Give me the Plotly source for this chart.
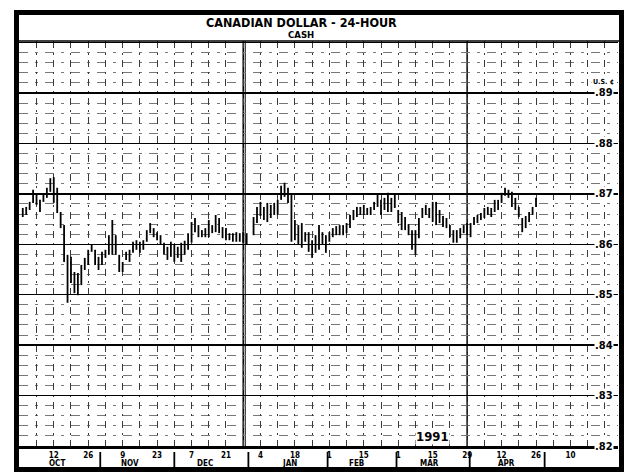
import pandas as pd
import plotly.graph_objects as go

# ---------------- data ----------------
title_main = "CANADIAN DOLLAR - 24-HOUR"
title_sub = "CASH"
unit_label = "U.S. ¢"
year_label = "1991"

dates = pd.bdate_range("1990-10-01", periods=150)

highs = [
    0.8672, 0.8674, 0.8684, 0.8708, 0.8698, 0.8688, 0.8698, 0.8712, 0.8731, 0.8733,
    0.8712, 0.8664, 0.8638, 0.8579, 0.8575, 0.8545, 0.8543, 0.8559, 0.8573, 0.8589,
    0.8599, 0.8589, 0.8575, 0.8585, 0.8589, 0.8618, 0.8648, 0.8618, 0.8579, 0.8565,
    0.8585, 0.8589, 0.8605, 0.8608, 0.8605, 0.8608, 0.8628, 0.8642, 0.8632, 0.8624,
    0.8618, 0.8603, 0.8595, 0.8605, 0.8599, 0.8595, 0.8603, 0.8607, 0.8622, 0.8644,
    0.8652, 0.8638, 0.8628, 0.8632, 0.8648, 0.8638, 0.8658, 0.8652, 0.8634, 0.8632,
    0.8622, 0.8622, 0.8624, 0.8622, 0.8624, 0.8622, None, 0.8654, 0.8674, 0.8684,
    0.8674, 0.8682, 0.8678, 0.8682, 0.8688, 0.8716, 0.8722, 0.8712, 0.8698, 0.8648,
    0.8638, 0.8642, 0.8624, 0.8624, 0.8608, 0.8618, 0.8638, 0.8624, 0.8618, 0.8624,
    0.8632, 0.8636, 0.8638, 0.8638, 0.8642, 0.8658, 0.8668, 0.8674, 0.8674, 0.8678,
    0.8672, 0.8674, 0.8684, 0.8698, 0.8688, 0.8692, 0.8702, 0.8692, 0.8698, 0.8668,
    0.8664, 0.8654, 0.8640, 0.8628, 0.8628, 0.8652, 0.8672, 0.8678, 0.8672, 0.8684,
    0.8684, 0.8668, 0.8656, 0.8652, 0.8638, 0.8628, 0.8628, 0.8632, 0.8638, 0.8642,
    0.8642, 0.8654, 0.8658, 0.8662, 0.8672, 0.8674, 0.8672, 0.8688, 0.8688, 0.8702,
    0.8712, 0.8708, 0.8704, 0.8692, 0.8674, 0.8652, 0.8656, 0.8664, 0.8674, 0.8692,
]
lows = [
    0.8654, 0.8658, 0.8668, 0.8682, 0.8678, 0.8664, 0.8684, 0.8692, 0.8704, 0.8682,
    0.8662, 0.8632, 0.8565, 0.8484, 0.8523, 0.8503, 0.8499, 0.8519, 0.8549, 0.8559,
    0.8585, 0.8559, 0.8549, 0.8559, 0.8573, 0.8579, 0.8579, 0.8579, 0.8545, 0.8545,
    0.8569, 0.8565, 0.8583, 0.8589, 0.8583, 0.8589, 0.8605, 0.8622, 0.8614, 0.8608,
    0.8599, 0.8579, 0.8569, 0.8575, 0.8565, 0.8573, 0.8565, 0.8579, 0.8589, 0.8603,
    0.8624, 0.8614, 0.8614, 0.8614, 0.8614, 0.8622, 0.8624, 0.8622, 0.8612, 0.8608,
    0.8608, 0.8605, 0.8605, 0.8605, 0.8603, 0.8599, None, 0.8618, 0.8642, 0.8656,
    0.8648, 0.8644, 0.8652, 0.8658, 0.8658, 0.8688, 0.8694, 0.8682, 0.8605, 0.8608,
    0.8599, 0.8593, 0.8605, 0.8585, 0.8573, 0.8583, 0.8589, 0.8599, 0.8583, 0.8605,
    0.8614, 0.8618, 0.8618, 0.8618, 0.8622, 0.8632, 0.8648, 0.8654, 0.8658, 0.8658,
    0.8658, 0.8658, 0.8668, 0.8674, 0.8658, 0.8668, 0.8664, 0.8664, 0.8672, 0.8642,
    0.8628, 0.8628, 0.8618, 0.8589, 0.8579, 0.8612, 0.8652, 0.8658, 0.8652, 0.8644,
    0.8638, 0.8642, 0.8634, 0.8632, 0.8614, 0.8603, 0.8603, 0.8612, 0.8622, 0.8618,
    0.8614, 0.8638, 0.8642, 0.8648, 0.8652, 0.8658, 0.8654, 0.8664, 0.8668, 0.8682,
    0.8696, 0.8692, 0.8674, 0.8668, 0.8654, 0.8624, 0.8632, 0.8644, 0.8658, 0.8674,
]

price_ticks = [0.82, 0.83, 0.84, 0.85, 0.86, 0.87, 0.88, 0.89]
price_tick_labels = [".82", ".83", ".84", ".85", ".86", ".87", ".88", ".89"]

fridays = pd.date_range("1990-09-28", "1991-05-24", freq="W-FRI")
label_first = pd.Timestamp("1990-10-12")
label_last = pd.Timestamp("1991-05-10")
day_labels = [str(d.day) if (label_first <= d <= label_last and (d - label_first).days % 14 == 0)
              else "" for d in fridays]

month_names = ["OCT", "NOV", "DEC", "JAN", "FEB", "MAR", "APR"]
month_label_dates = ["1990-10-15", "1990-11-13", "1990-12-13", "1991-01-16 12:00",
                     "1991-02-13", "1991-03-14", "1991-04-15 12:00"]
month_break_dates = ["1990-10-31 12:00", "1990-11-30 00:00", "1990-12-31 12:00",
                     "1991-01-31 12:00", "1991-02-28 12:00", "1991-03-29 18:00",
                     "1991-04-30 12:00"]
quarter_end_dates = ["1990-12-28", "1991-03-29"]
year_label_date = "1991-03-15"

# ---------------- figure ----------------
FONT = "DejaVu Sans Condensed, Liberation Sans Narrow, DejaVu Sans, sans-serif"
W, H = 635, 476
L, R, T, B = 19, 17, 41, 30
PW, PH = W - L - R, H - T - B
DASH_H = "9px,7px,3px,7px"
DASH_V = "7px,5px,2px,5px"


def px_x(px):
    return (px - L) / PW


def px_y(py):
    return (H - B - py) / PH


xs, ys = [], []
for d, h, l in zip(dates, highs, lows):
    if h is None or l is None:
        continue
    xs += [d, d, None]
    ys += [l, h, None]

fig = go.Figure()
fig.add_trace(go.Scatter(x=xs, y=ys, mode="lines",
                         line=dict(color="black", width=1.8),
                         hoverinfo="skip", showlegend=False))

shapes = []
for q in quarter_end_dates:
    shapes.append(dict(type="line", xref="x", yref="paper", x0=q, x1=q, y0=0, y1=1,
                       line=dict(color="black", width=1.5), layer="below"))
q0 = pd.Timestamp(quarter_end_dates[0]) + pd.Timedelta(hours=14)
shapes.append(dict(type="line", xref="x", yref="paper", x0=q0, x1=q0, y0=0, y1=1,
                   line=dict(color="black", width=1), layer="below"))
for m in month_break_dates:
    shapes.append(dict(type="line", xref="x", yref="paper", x0=m, x1=m,
                       y0=px_y(452), y1=px_y(470), line=dict(color="black", width=1.8)))
shapes.append(dict(type="line", xref="paper", yref="paper", x0=px_x(17), x1=px_x(621),
                   y0=1, y1=1, line=dict(color="black", width=1.6)))
shapes.append(dict(type="rect", xref="paper", yref="paper",
                   x0=px_x(16.5), x1=px_x(621.5), y0=px_y(469.5), y1=px_y(12.5),
                   line=dict(color="black", width=5), fillcolor="rgba(0,0,0,0)"))

annotations = []
annotations.append(dict(text=title_main, xref="paper", yref="paper", x=px_x(301), y=px_y(23),
                        showarrow=False, xanchor="center", yanchor="middle",
                        font=dict(family=FONT, size=12.5, color="black", weight="bold")))
annotations.append(dict(text=title_sub, xref="paper", yref="paper", x=px_x(301), y=px_y(35),
                        showarrow=False, xanchor="center", yanchor="middle",
                        font=dict(family=FONT, size=9.5, color="black", weight="bold")))
for v, t in zip(price_ticks, price_tick_labels):
    annotations.append(dict(text=t, xref="paper", yref="y", x=px_x(614), y=v,
                            showarrow=False, xanchor="right", yanchor="middle",
                            bgcolor="white", borderpad=0,
                            font=dict(family=FONT, size=11, color="black", weight="bold")))
annotations.append(dict(text=unit_label, xref="paper", yref="paper", x=px_x(616), y=px_y(82),
                        showarrow=False, xanchor="right", yanchor="middle", bgcolor="white",
                        font=dict(family=FONT, size=7, color="black", weight="bold")))
for name, d in zip(month_names, month_label_dates):
    annotations.append(dict(text=name, xref="x", yref="paper", x=d, y=px_y(463.5),
                            showarrow=False, xanchor="center", yanchor="middle",
                            font=dict(family=FONT, size=8, color="black", weight="bold")))
annotations.append(dict(text=year_label, xref="x", yref="paper", x=year_label_date, y=0,
                        showarrow=False, xanchor="center", yanchor="bottom", yshift=1,
                        bgcolor="white", borderpad=0,
                        font=dict(family=FONT, size=13, color="black", weight="bold")))

fig.update_layout(
    width=W, height=H,
    margin=dict(l=L, r=R, t=T, b=B, pad=0),
    paper_bgcolor="white", plot_bgcolor="white",
    showlegend=False, hovermode=False,
    shapes=shapes, annotations=annotations,
    xaxis=dict(
        type="date",
        range=["1990-09-27 21:50", "1991-05-29 19:10"],
        rangebreaks=[dict(bounds=["sat", "mon"])],
        tickmode="array", tickvals=list(fridays), ticktext=day_labels,
        ticks="", tickangle=0,
        tickfont=dict(family=FONT, size=8, color="black", weight="bold"),
        showgrid=True, gridcolor="#3a3a3a", gridwidth=1, griddash=DASH_V,
        showline=True, linecolor="black", linewidth=2.5,
        zeroline=False, fixedrange=True,
    ),
    yaxis=dict(
        range=[0.82, 0.9003],
        tickmode="linear", tick0=0.82, dtick=0.01,
        showticklabels=False, ticks="",
        showgrid=True, gridcolor="black", gridwidth=1.5,
        minor=dict(tick0=0.82, dtick=0.002, showgrid=True, gridcolor="#777",
                   gridwidth=1, griddash=DASH_H),
        zeroline=False, showline=False, fixedrange=True,
    ),
)

fig.write_html("out.html",
               config={"displayModeBar": False, "staticPlot": True},
               post_script="document.body.style.margin='0';document.body.style.padding='0';")
